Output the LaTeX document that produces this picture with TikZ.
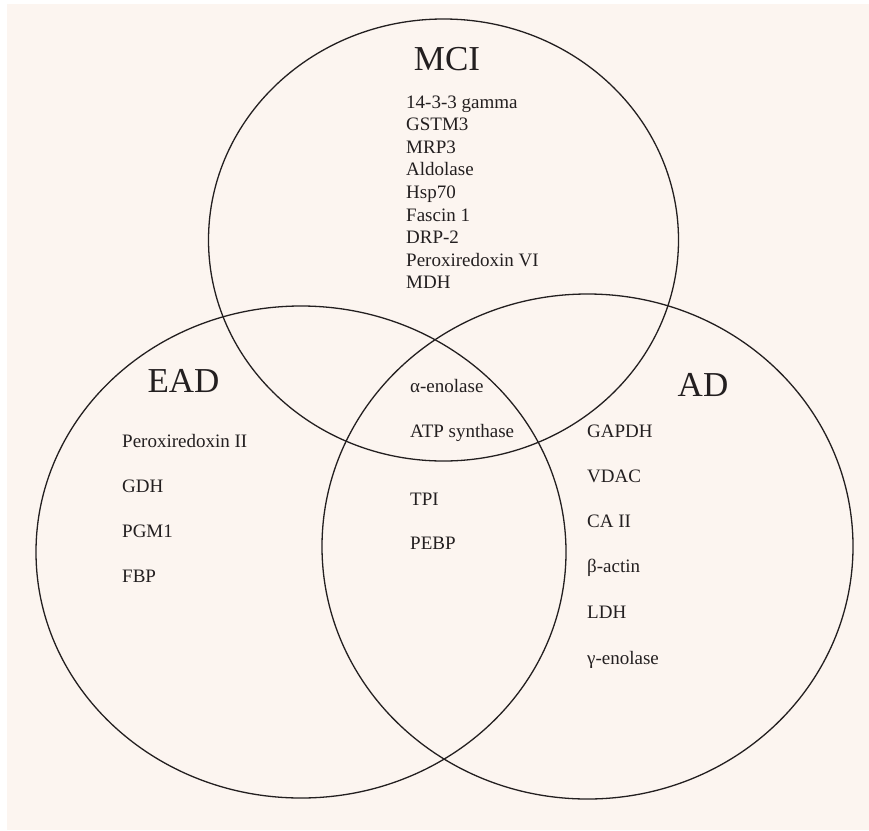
\documentclass[tikz,border=0pt]{standalone}
\usepackage{fontspec}
\setmainfont{Liberation Serif}
\definecolor{bg}{RGB}{252,245,240}
\definecolor{ink}{RGB}{35,31,32}
\begin{document}
\begin{tikzpicture}[x=1pt,y=-1pt,
  ring/.style={draw=ink,line width=1.3pt},
  title/.style={anchor=base,inner sep=0pt,text=ink,font=\fontsize{35}{40}\selectfont},
  item/.style={anchor=base west,inner sep=0pt,text=ink,font=\fontsize{19}{22}\selectfont}]
\useasboundingbox (0,0) rectangle (869,830);
\fill[white] (0,0) rectangle (869,830);
\fill[bg] (7,4) rectangle (869,830);
% circles
\draw[ring] (443.5,240) ellipse [x radius=235pt, y radius=221pt];
\draw[ring] (301,552) ellipse [x radius=265pt, y radius=246pt];
\draw[ring] (587.5,546.5) ellipse [x radius=265.5pt, y radius=252.5pt];
% titles
\node[title] (tmci) at (447,70) {MCI};
\node[title] (tead) at (183.5,392) {EAD};
\node[title] (tad) at (703,396) {AD};
% MCI list
\node[item] (m1) at (406,108) {14-3-3 gamma};
\node[item] (m2) at (406,130.6) {GSTM3};
\node[item] (m3) at (406,153.2) {MRP3};
\node[item] (m4) at (406,175.8) {Aldolase};
\node[item] (m5) at (406,198.4) {Hsp70};
\node[item] (m6) at (406,221) {Fascin 1};
\node[item] (m7) at (406,243.6) {DRP-2};
\node[item] (m8) at (406,266.2) {Peroxiredoxin VI};
\node[item] (m9) at (406,288.8) {MDH};
% EAD list
\node[item] (e1) at (122,447) {Peroxiredoxin II};
\node[item] (e2) at (122,492) {GDH};
\node[item] (e3) at (122,537) {PGM1};
\node[item] (e4) at (122,582) {FBP};
% centre
\node[item] (c1) at (410,392) {α-enolase};
\node[item] (c2) at (410,437) {ATP synthase};
\node[item] (c3) at (410,505) {TPI};
\node[item] (c4) at (410,549) {PEBP};
% AD list
\node[item] (a1) at (587,437) {GAPDH};
\node[item] (a2) at (587,482) {VDAC};
\node[item] (a3) at (587,527) {CA II};
\node[item] (a4) at (587,572) {β-actin};
\node[item] (a5) at (587,618) {LDH};
\node[item] (a6) at (587,664) {γ-enolase};
\end{tikzpicture}
\end{document}
